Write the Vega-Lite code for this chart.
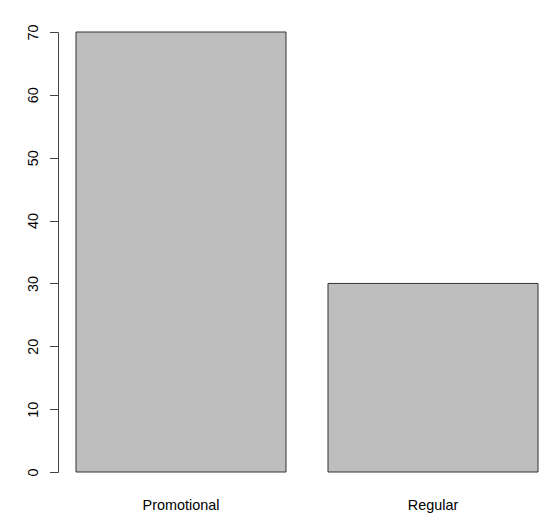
{
  "$schema": "https://vega.github.io/schema/vega-lite/v6.json",
  "autosize": {"type": "none"},
  "padding": {"left": 58, "top": 32, "right": 4, "bottom": 54},
  "width": 498,
  "height": 440,
  "background": "white",
  "config": {
    "view": {"stroke": null},
    "font": "Liberation Sans"
  },
  "data": {
    "values": [
      {"category": "Promotional", "value": 70},
      {"category": "Regular", "value": 30}
    ]
  },
  "mark": {"type": "bar", "fill": "#BEBEBE", "stroke": "#333333", "strokeWidth": 1},
  "encoding": {
    "x": {
      "field": "category",
      "type": "nominal",
      "sort": null,
      "scale": {"paddingInner": 0.16667, "paddingOuter": 0.0714},
      "axis": {
        "title": null,
        "domain": false,
        "ticks": false,
        "labelAngle": 0,
        "labelFont": "Liberation Sans",
        "labelFontSize": 14.4,
        "labelColor": "#000000",
        "labelBaseline": "alphabetic",
        "labelPadding": 37
      }
    },
    "y": {
      "field": "value",
      "type": "quantitative",
      "scale": {"domain": [0, 70], "nice": false},
      "axis": {
        "title": null,
        "grid": false,
        "values": [0, 10, 20, 30, 40, 50, 60, 70],
        "domainColor": "#444444",
        "domainWidth": 1,
        "tickColor": "#444444",
        "tickWidth": 1,
        "tickSize": 8.5,
        "labelAngle": -90,
        "labelAlign": "center",
        "labelBaseline": "alphabetic",
        "labelPadding": 12,
        "labelFont": "Liberation Sans",
        "labelFontSize": 14.4,
        "labelColor": "#000000"
      }
    }
  }
}
